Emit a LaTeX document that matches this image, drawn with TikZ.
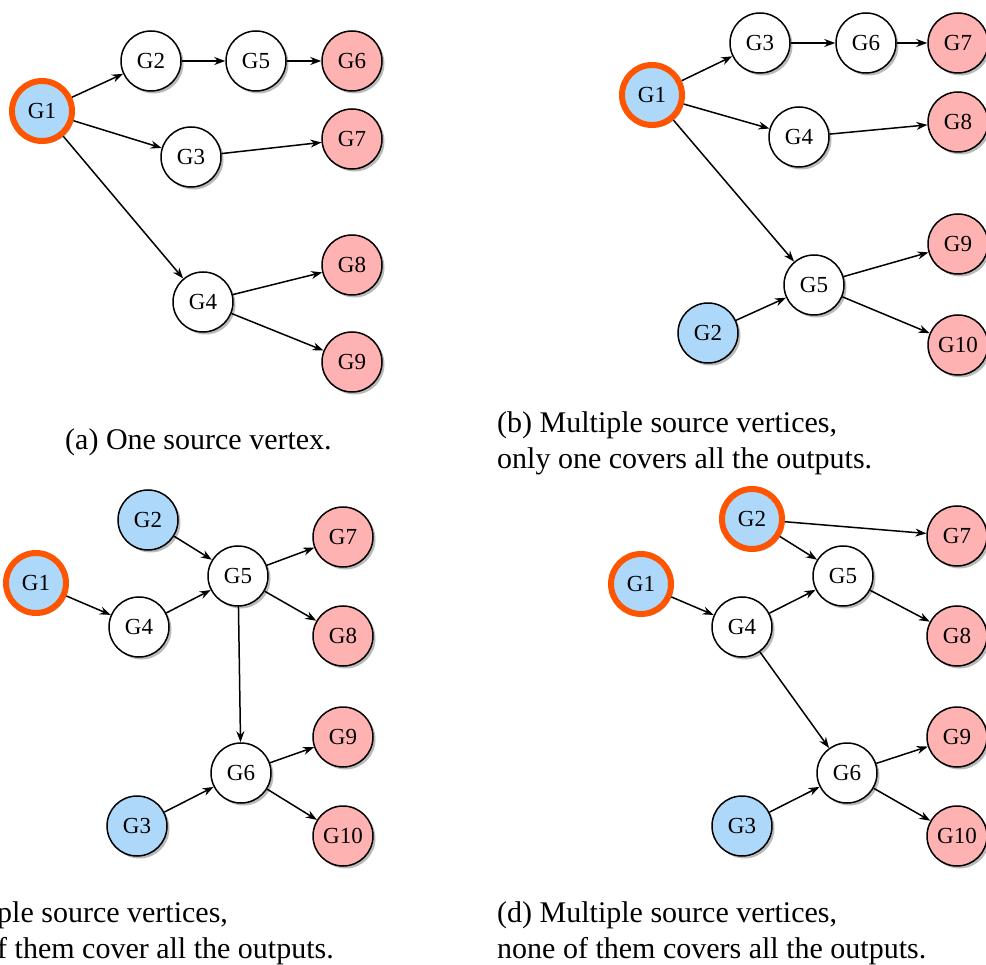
\documentclass[tikz,border=0pt]{standalone}
\usepackage{fontspec}
\setmainfont{Liberation Serif}
\usetikzlibrary{arrows.meta,shadows}
\definecolor{srcblue}{RGB}{173,216,250}
\definecolor{outpink}{RGB}{255,178,178}
\definecolor{srcorange}{RGB}{255,85,0}
\tikzset{
  vtx/.style={circle, draw=black, line width=1.5pt, minimum size=60pt, inner sep=0pt, fill=white,
    font=\fontsize{23}{26}\selectfont,
    drop shadow={shadow xshift=2.5pt, shadow yshift=-2.5pt, opacity=0.45, fill=black!60}},
  outv/.style={vtx, fill=outpink},
  srcv/.style={vtx, fill=srcblue},
  mainv/.style={vtx, fill=srcblue, draw=srcorange, line width=6pt, minimum size=60pt},
  edge/.style={line width=1.5pt, -{Stealth[length=11pt,width=8pt]}},
  capt/.style={font=\fontsize{30}{36}\selectfont, align=left, anchor=base west, inner sep=0pt}
}
\begin{document}
\begin{tikzpicture}[x=1pt,y=-1pt]
\useasboundingbox (0,0) rectangle (986,965);
\clip (0,0) rectangle (986,965);
% ---------- (a)
\node[mainv] (a1) at (42,111) {G1};
\node[vtx] (a2) at (151,61) {G2};
\node[vtx] (a5) at (256,61) {G5};
\node[outv] (a6) at (352,61) {G6};
\node[vtx] (a3) at (191,157) {G3};
\node[outv] (a7) at (352,139) {G7};
\node[vtx] (a4) at (203,302) {G4};
\node[outv] (a8) at (352,265) {G8};
\node[outv] (a9) at (352,362) {G9};
\draw[edge] (a1) -- (a2);
\draw[edge] (a2) -- (a5);
\draw[edge] (a5) -- (a6);
\draw[edge] (a1) -- (a3);
\draw[edge] (a3) -- (a7);
\draw[edge] (a1) -- (a4);
\draw[edge] (a4) -- (a8);
\draw[edge] (a4) -- (a9);
\node[capt] (ca) at (65,450) {(a) One source vertex.};
% ---------- (b)
\node[mainv] (b1) at (652,95) {G1};
\node[vtx] (b3) at (760,43) {G3};
\node[vtx] (b6) at (866,43) {G6};
\node[outv] (b7) at (958,43) {G7};
\node[vtx] (b4) at (799,137) {G4};
\node[outv] (b8) at (958,122) {G8};
\node[vtx] (b5) at (814,285) {G5};
\node[srcv] (b2) at (708,333) {G2};
\node[outv] (b9) at (958,244) {G9};
\node[outv] (b10) at (958,345) {G10};
\draw[edge] (b1) -- (b3);
\draw[edge] (b3) -- (b6);
\draw[edge] (b6) -- (b7);
\draw[edge] (b1) -- (b4);
\draw[edge] (b4) -- (b8);
\draw[edge] (b1) -- (b5);
\draw[edge] (b2) -- (b5);
\draw[edge] (b5) -- (b9);
\draw[edge] (b5) -- (b10);
\node[capt] (cb1) at (497,433) {(b) Multiple source vertices,};
\node[capt] (cb2) at (497,469) {only one covers all the outputs.};
% ---------- (c)
\node[srcv] (c2) at (148,520) {G2};
\node[mainv] (c1) at (36,583) {G1};
\node[vtx] (c4) at (139,627) {G4};
\node[vtx] (c5) at (238,576) {G5};
\node[outv] (c7) at (343,537) {G7};
\node[outv] (c8) at (343,636) {G8};
\node[vtx] (c6) at (241,773) {G6};
\node[outv] (c9) at (343,737) {G9};
\node[srcv] (c3) at (137,826) {G3};
\node[outv] (c10) at (343,836) {G10};
\draw[edge] (c2) -- (c5);
\draw[edge] (c1) -- (c4);
\draw[edge] (c4) -- (c5);
\draw[edge] (c5) -- (c7);
\draw[edge] (c5) -- (c8);
\draw[edge] (c5) -- (c6);
\draw[edge] (c3) -- (c6);
\draw[edge] (c6) -- (c9);
\draw[edge] (c6) -- (c10);
\node[capt] (cc1) at (-3,922) {ple source vertices,};
\node[capt] (cc2) at (-3,958) {f them cover all the outputs.};
% ---------- (d)
\node[mainv] (d2) at (752,519) {G2};
\node[outv] (d7) at (957,536) {G7};
\node[mainv] (d1) at (641,584) {G1};
\node[vtx] (d5) at (843,576) {G5};
\node[vtx] (d4) at (742,627) {G4};
\node[outv] (d8) at (957,636) {G8};
\node[vtx] (d6) at (847,773) {G6};
\node[outv] (d9) at (957,737) {G9};
\node[srcv] (d3) at (742,826) {G3};
\node[outv] (d10) at (957,836) {G10};
\draw[edge] (d2) -- (d7);
\draw[edge] (d2) -- (d5);
\draw[edge] (d1) -- (d4);
\draw[edge] (d4) -- (d5);
\draw[edge] (d5) -- (d8);
\draw[edge] (d4) -- (d6);
\draw[edge] (d3) -- (d6);
\draw[edge] (d6) -- (d9);
\draw[edge] (d6) -- (d10);
\node[capt] (cd1) at (497,922) {(d) Multiple source vertices,};
\node[capt] (cd2) at (497,958) {none of them covers all the outputs.};
\end{tikzpicture}
\end{document}
